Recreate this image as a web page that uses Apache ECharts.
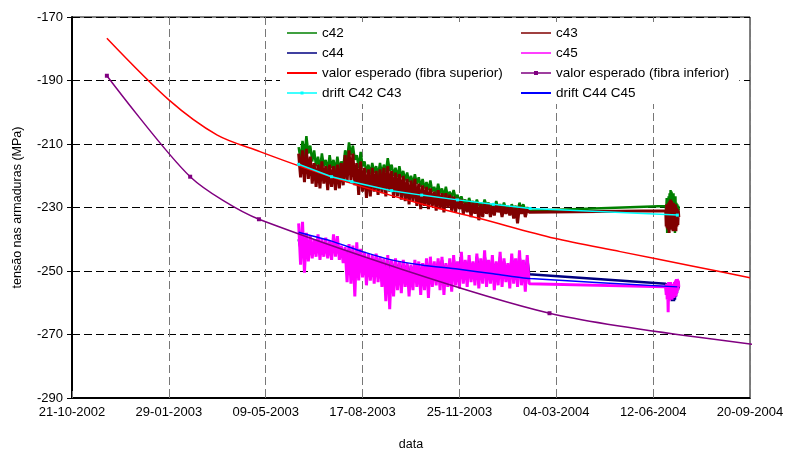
<!DOCTYPE html>
<html>
<head>
<meta charset="utf-8">
<script src="https://cdn.jsdelivr.net/npm/echarts@6/dist/echarts.min.js"></script>
<style>
  html, body { margin: 0; padding: 0; background: #fff; }
  #chart { width: 789px; height: 457px; }
</style>
</head>
<body>
<div id="chart"></div>
<script>
// origem do eixo das abscissas e marcas a cada 100 dias
const dataInicio = '2002-10-21';
const dataFim = '2004-09-20';
const passoDias = 100;
const yMin = -290, yMax = -170, yPasso = 20;

// leituras dos extensometros: 1o periodo (a cada 4 dias, max/min), 2o periodo (diario)
const inicio1 = '2003-06-12', passo1 = 4;
const inicio2 = '2004-06-25', passo2 = 1;

const c42Max = [
  -211, -209, -207.5, -210.5, -212, -214, -213, -215, -213.5, -215,
  -214, -215.5, -212, -209.5, -210.5, -213.5, -212.5, -215.5, -216.5, -216,
  -217, -216, -216.5, -214.5, -216.5, -217.5, -217, -218.5, -219, -220,
  -219.5, -220.5, -221, -222, -221.5, -223.5, -222.5, -224, -223.5, -225,
  -224.5, -226, -226.5, -227.5, -227, -228, -227.5, -228.5, -227.5, -228.5,
  -229, -228, -229, -228.5, -229.5, -229, -229.5, -228.5, -229, -230
];
const c42Min = [
  -215, -214, -213, -215.5, -217, -218, -217, -218.5, -217.5, -218.5,
  -218, -217.5, -215, -213.5, -215, -217.5, -217, -219, -219.5, -219,
  -220, -219.5, -219, -218.5, -220, -220.5, -220.5, -221.5, -222, -222.5,
  -222.5, -223.5, -224, -224.5, -225, -226, -225.5, -226.5, -226.5, -227,
  -227, -228, -228.5, -229.5, -229, -229.5, -229.5, -230, -229.5, -230,
  -230.5, -230, -230.5, -230.5, -231, -230.5, -231, -230.5, -231, -231
];
const c43Max = [
  -213, -212, -211.5, -214, -216, -216.5, -215.5, -217, -216.5, -217,
  -216.5, -216, -213.5, -212, -213, -216, -215.5, -217.5, -218, -217.5,
  -218.5, -218, -217.5, -217, -218.5, -219, -219.5, -220, -221, -221.5,
  -221, -222.5, -223, -223.5, -224, -225, -224.5, -225.5, -225.5, -226,
  -226.5, -227, -227.5, -228.5, -228, -228.5, -228.5, -229, -228.5, -229,
  -229.5, -229, -229.5, -229.5, -230, -229.5, -230, -229.5, -230, -230.5
];
const c43Min = [
  -220.5, -222, -221, -222.5, -223.5, -224, -222.5, -224.5, -223.5, -224.5,
  -224, -223, -222, -221.5, -223, -226, -225, -227, -226.5, -225,
  -226, -225.5, -226.5, -225, -227, -226.5, -227.5, -228, -229, -228,
  -229.5, -230.5, -229.5, -230.5, -229.5, -231, -230.5, -231.5, -230, -231,
  -231.5, -230.5, -232, -231.5, -233, -232, -234, -233, -232, -233,
  -232.5, -231.5, -233, -232, -232.5, -233.5, -235, -232, -233, -231.5
];
const c44Max = [
  -240, -239.5, -240.5, -241, -241.5, -240.5, -241.5, -241, -242, -240.5,
  -241, -243, -243.5, -243, -243.5, -243, -244, -245, -245.5, -246,
  -245.5, -246, -246.5, -246, -247, -247, -247.5, -247, -248, -248.5,
  -247.5, -248, -248, -247, -246.5, -248, -247, -246.5, -248, -247,
  -246, -247.5, -245.5, -247, -246.5, -247.5, -245.5, -247, -245, -247,
  -246, -247.5, -245.5, -247, -248, -245.5, -247, -245, -247.5, -246
];
const c44Min = [
  -243, -244, -243.5, -244, -243.5, -244.5, -244, -244.5, -244, -243.5,
  -244.5, -245.5, -247, -248, -249, -248, -248.5, -249.5, -249, -250,
  -249.5, -250.5, -251, -251.5, -251, -250.5, -251.5, -251, -252, -251.5,
  -251, -252, -251.5, -252, -251, -251.5, -251, -252, -251, -251.5,
  -250.5, -251.5, -250.5, -251, -250.5, -251, -250.5, -251, -250.5, -251,
  -251.5, -251, -250.5, -251, -251.5, -250.5, -251, -250.5, -251.5, -251
];
const c45Max = [
  -235, -234.5, -238, -239, -240, -238.5, -240, -239.5, -240.5, -238.5,
  -239, -242, -242.5, -241.5, -242, -241, -243, -244, -244.5, -245,
  -244.5, -245.5, -246, -245, -246.5, -246, -247, -246.5, -247.5, -248,
  -246.5, -247, -247.5, -246, -245.5, -247, -246, -245.5, -247.5, -246,
  -245, -247, -244, -246.5, -245, -247, -244.5, -246, -243.5, -246.5,
  -245, -247, -244, -246, -247.5, -244.5, -246, -243.5, -246.5, -245
];
const c45Min = [
  -248, -250.5, -247, -246, -245.5, -246.5, -245.5, -246, -246.5, -245.5,
  -246.5, -247.5, -253.5, -254, -258, -253, -252, -254.5, -253, -254,
  -253.5, -255, -259.5, -262, -258, -256, -257, -255, -258, -256,
  -255, -257.5, -256, -258.5, -255, -254.5, -256, -257.5, -255, -256.5,
  -254.5, -255.5, -254, -255, -253.5, -254.5, -255.5, -254, -255, -254,
  -256, -254.5, -255, -253.5, -255.5, -254, -255, -254.5, -256.5, -254
];

const c42MaxB = [-229.5, -227, -228, -226.5, -225.5, -224.5, -225, -226, -225.5, -227, -226.5, -228.5, -229, -229.5];
const c42MinB = [-232, -238, -233, -231, -230, -229, -230, -231, -230.5, -238, -232, -231, -232, -231];
const c43MaxB = [-231, -229, -230, -228.5, -228, -227.5, -228, -229, -228.5, -229.5, -229, -230, -230.5, -231];
const c43MinB = [-236, -236.5, -237, -238, -236.5, -237, -236, -237.5, -236.5, -236.5, -237.5, -236, -235.5, -233];
const c44MaxB = [-254, -254.5, -255, -255, -255.5, -256, -257, -257.5, -257, -256, -255.5, -255, -254.5, -254.5];
const c44MinB = [-256.5, -257, -257.5, -258, -258.5, -259, -259.5, -259.5, -259.5, -259, -258, -257, -256, -255.5];
const c45MaxB = [-255, -254, -254.5, -253.5, -254, -253.5, -254, -254.5, -254, -253.5, -253, -252.5, -252.5, -253];
const c45MinB = [-257.5, -259, -263, -259.5, -258, -258.5, -259, -258, -258.5, -257.5, -258, -257, -256, -255];

// valores esperados
const superiorDatas = ['2002-11-26', '2003-01-29', '2003-03-20', '2003-05-03', '2003-06-18', '2003-08-17',
  '2003-10-16', '2003-12-15', '2004-03-02', '2004-05-09', '2004-07-22', '2004-09-20'];
const superiorValores = [-176.7, -196.1, -207.2, -212.4, -217.5, -223.5, -228.8, -233.4, -239.7, -243.9, -248.4, -252.1];
const inferiorDatas = ['2002-11-26', '2003-02-20', '2003-05-02', '2004-02-26', '2004-11-19'];
const inferiorValores = [-188.5, -220.3, -233.7, -263.3, -275.2];

// drift
const drift1Datas = ['2003-06-12', '2003-07-16', '2003-08-06', '2003-09-16', '2003-10-17', '2003-11-23', '2003-12-30', '2004-02-06', '2004-07-07'];
const drift1Valores = [-216.4, -220.3, -221.9, -224.7, -226.1, -227.6, -229, -230.3, -232.4];
const drift2Datas = ['2003-06-12', '2003-07-16', '2003-08-17', '2003-09-16', '2003-10-17', '2003-11-23', '2003-12-30', '2004-02-06', '2004-07-07'];
const drift2Valores = [-237.8, -240.6, -243.9, -246.5, -248.1, -249.4, -250.9, -252.4, -255];

const T0 = Date.parse(dataInicio);
const DIA = 864e5;
function diaDe(s) { return (Date.parse(s) - T0) / DIA; }

function leituras(max, min, maxB, minB) {
  const out = [];
  const d1 = diaDe(inicio1), d2 = diaDe(inicio2);
  max.forEach((v, i) => {
    out.push([d1 + i * passo1, v], [d1 + i * passo1 + passo1 / 2, min[i]]);
  });
  maxB.forEach((v, i) => {
    out.push([d2 + i * passo2, v], [d2 + i * passo2 + passo2 / 2, minB[i]]);
  });
  return out;
}
function pontos(datas, valores) {
  return datas.map((d, i) => [diaDe(d), valores[i]]);
}
function fmtData(v) {
  const d = new Date(T0 + v * DIA);
  const p = n => (n < 10 ? '0' : '') + n;
  return p(d.getUTCDate()) + '-' + p(d.getUTCMonth() + 1) + '-' + d.getUTCFullYear();
}

const fonte = '"Liberation Sans", Arial, sans-serif';
const chart = echarts.init(document.getElementById('chart'), null, { renderer: 'canvas' });

// icones da legenda: linha simples ou linha com marcador
const iconeLinha = 'path://M0,0H30V1.5H0Z';
const iconeLinhaGrossa = 'path://M0,0H30V2H0Z';
const iconeMarca = 'path://M0,1.25H30V2.75H0Z M13,0H17V4H13Z';
const iconeMarcaPeq = 'path://M0,0.75H30V2.25H0Z M13.5,0H16.5V3H13.5Z';

function linha(name, color, data, width, extra) {
  return Object.assign({
    name: name,
    type: 'line',
    data: data,
    symbol: 'none',
    showSymbol: false,
    color: color,
    lineStyle: { color: color, width: width },
    emphasis: { disabled: true },
    clip: true
  }, extra || {});
}

const legendaBase = {
  orient: 'vertical',
  itemWidth: 30,
  itemHeight: 14,
  itemGap: 6,
  top: 22,
  backgroundColor: '#fff',
  textStyle: { fontFamily: fonte, fontSize: 13.5, color: '#000' },
  selectedMode: false
};

const option = {
  animation: false,
  backgroundColor: '#fff',
  grid: { left: 72, right: 39, top: 17, bottom: 59, show: true, borderColor: '#000', borderWidth: 1 },
  legend: [
    Object.assign({}, legendaBase, {
      left: 280, padding: [4, 12, 4, 7],
      data: [
        { name: 'c42', icon: iconeLinha },
        { name: 'c44', icon: iconeLinha },
        { name: 'valor esperado (fibra superior)', icon: iconeLinhaGrossa },
        { name: 'drift C42 C43', icon: iconeMarcaPeq }
      ]
    }),
    Object.assign({}, legendaBase, {
      left: 514, padding: [4, 10, 4, 7],
      data: [
        { name: 'c43', icon: iconeLinha },
        { name: 'c45', icon: iconeLinha },
        { name: 'valor esperado (fibra inferior)', icon: iconeMarca },
        { name: 'drift C44 C45', icon: iconeLinhaGrossa }
      ]
    })
  ],
  xAxis: {
    type: 'value',
    min: 0,
    max: diaDe(dataFim),
    interval: passoDias,
    name: 'data',
    nameLocation: 'middle',
    nameGap: 40,
    nameTextStyle: { fontFamily: fonte, fontSize: 12.5, color: '#000' },
    axisLine: { lineStyle: { color: '#000', width: 2 } },
    axisTick: { inside: true, length: 7, lineStyle: { color: '#777' } },
    axisLabel: { formatter: fmtData, fontFamily: fonte, fontSize: 13, color: '#000', margin: 8 },
    splitLine: { show: true, lineStyle: { color: '#777', type: [8, 4], width: 1 } }
  },
  yAxis: {
    type: 'value',
    min: yMin,
    max: yMax,
    interval: yPasso,
    name: 'tensão nas armaduras (MPa)',
    nameLocation: 'middle',
    nameGap: 48,
    nameTextStyle: { fontFamily: fonte, fontSize: 12.5, color: '#000' },
    axisLine: { show: true, lineStyle: { color: '#000', width: 2 } },
    axisTick: { show: true, length: 5, lineStyle: { color: '#000' } },
    axisLabel: { fontFamily: fonte, fontSize: 13, color: '#000', margin: 9 },
    splitLine: { show: true, lineStyle: { color: '#000', type: [8, 4], width: 1 } }
  },
  series: [
    linha('c42', '#008000', leituras(c42Max, c42Min, c42MaxB, c42MinB), 2.5),
    linha('c43', '#800000', leituras(c43Max, c43Min, c43MaxB, c43MinB), 3),
    linha('c44', '#000080', leituras(c44Max, c44Min, c44MaxB, c44MinB), 2.5),
    linha('c45', '#ff00ff', leituras(c45Max, c45Min, c45MaxB, c45MinB), 3),
    linha('valor esperado (fibra superior)', '#ff0000', pontos(superiorDatas, superiorValores), 1.5, { smooth: 0.3 }),
    linha('valor esperado (fibra inferior)', '#800080', pontos(inferiorDatas, inferiorValores), 1.5,
      { symbol: 'rect', symbolSize: 4, showSymbol: true, smooth: 0.25, itemStyle: { color: '#800080' } }),
    linha('drift C42 C43', '#00ffff', pontos(drift1Datas, drift1Valores), 1.5,
      { symbol: 'rect', symbolSize: 3, showSymbol: true, itemStyle: { color: '#00ffff' } }),
    linha('drift C44 C45', '#0000ff', pontos(drift2Datas, drift2Valores), 1.5, { smooth: 0.2 })
  ]
};

chart.setOption(option);
window.addEventListener('resize', chart.resize);
</script>
</body>
</html>
